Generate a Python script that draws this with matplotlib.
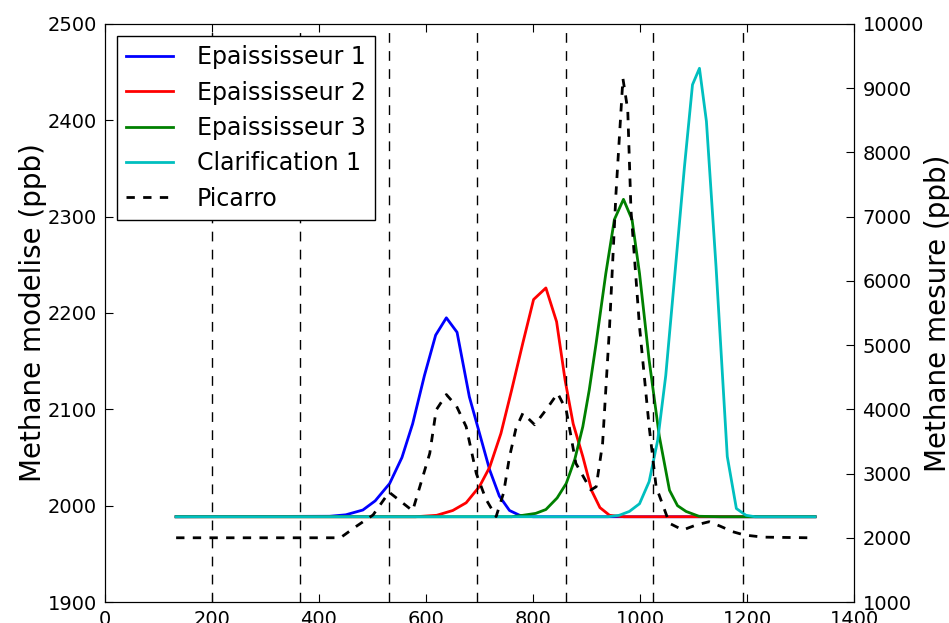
import numpy as np
import matplotlib
matplotlib.use('Agg')
import matplotlib.pyplot as plt

# modelled methane (left axis, ppb)
x_ep1 = [133, 420, 450, 482, 505, 532, 555, 575, 597, 618, 638, 658, 681, 700, 719, 737, 756, 775, 800, 1327]
y_ep1 = [1988.5, 1989, 1990.5, 1995.5, 2005, 2023, 2050, 2085, 2135, 2177, 2195, 2180, 2113, 2075, 2037, 2010, 1995, 1990, 1988.5, 1988.5]

x_ep2 = [133, 580, 620, 650, 675, 700, 719, 740, 760, 781, 801, 824, 844, 860, 875, 893, 910, 925, 943, 970, 1327]
y_ep2 = [1988.5, 1988.5, 1990, 1995, 2003, 2020, 2040, 2075, 2120, 2169, 2214, 2226, 2191, 2130, 2085, 2051, 2015, 1998, 1990, 1988.5, 1988.5]

x_ep3 = [133, 760, 781, 805, 824, 845, 862, 878, 893, 905, 918, 936, 952, 969, 985, 999, 1017, 1036, 1055, 1070, 1086, 1110, 1150, 1327]
y_ep3 = [1988.5, 1988.5, 1990, 1992, 1996, 2008, 2023, 2048, 2082, 2120, 2169, 2241, 2297, 2318, 2297, 2241, 2151, 2072, 2016, 2000, 1994, 1989, 1988.5, 1988.5]

x_cl1 = [133, 940, 961, 980, 999, 1017, 1033, 1048, 1065, 1083, 1098, 1111, 1124, 1142, 1163, 1180, 1198, 1215, 1327]
y_cl1 = [1988.5, 1988.5, 1990, 1994, 2002, 2025, 2068, 2135, 2240, 2352, 2437, 2454, 2399, 2248, 2051, 1997, 1990, 1988.5, 1988.5]

# measured methane (right axis, ppb)
x_pic = [133, 440, 470, 501, 531, 575, 607, 619, 638, 657, 675, 694, 712, 731, 745, 756, 768, 781, 803,
         825, 846, 862, 880, 908, 918, 930, 943, 955, 968, 977, 983, 999, 1017, 1030, 1055, 1080, 1105,
         1129, 1150, 1173, 1195, 1230, 1316]
y_pic = [2000, 2000, 2180, 2355, 2710, 2420, 3315, 3990, 4230, 4050, 3730, 3000, 2600, 2330, 2700, 3260, 3700, 3940, 3760,
         4000, 4250, 3990, 3160, 2744, 2795, 3471, 5286, 7363, 9150, 8660, 7104, 5286, 3730, 2795, 2225, 2121, 2200,
         2250, 2180, 2095, 2043, 2010, 2000]

vlines = [200, 365, 531, 695, 862, 1025, 1193]

plt.rcParams['font.family'] = 'DejaVu Sans'
fig = plt.figure(figsize=(9.49, 6.23), dpi=100)
ax = fig.add_axes([0.1106, 0.0337, 0.7894, 0.9278])
ax2 = ax.twinx()

l1, = ax.plot(x_ep1, y_ep1, color='b', lw=2, label='Epaississeur 1')
l2, = ax.plot(x_ep2, y_ep2, color='r', lw=2, label='Epaississeur 2')
l3, = ax.plot(x_ep3, y_ep3, color='g', lw=2, label='Epaississeur 3')
l4, = ax.plot(x_cl1, y_cl1, color='c', lw=2, label='Clarification 1')
l5, = ax2.plot(x_pic, y_pic, color='k', lw=2, dashes=(3, 3), label='Picarro')
for v in vlines:
    ax.axvline(v, color='k', lw=1, dashes=(7, 6))

ax.set_xlim(0, 1400)
ax.set_ylim(1900, 2500)
ax2.set_ylim(1000, 10000)
ax.set_xticks(np.arange(0, 1401, 200))
ax.set_yticks(np.arange(1900, 2501, 100))
ax2.set_yticks(np.arange(1000, 10001, 1000))

ax.set_ylabel('Methane modelise (ppb)', fontsize=20, labelpad=0)
ax2.set_ylabel('Methane mesure (ppb)', fontsize=20, labelpad=0)
ax.tick_params(direction='in', length=6, labelsize=14, top=True, pad=6)
ax2.tick_params(direction='in', length=6, labelsize=14, pad=6)

leg = ax.legend([l1, l2, l3, l4, l5], [l.get_label() for l in [l1, l2, l3, l4, l5]],
                loc='upper left', fontsize=17, fancybox=False, framealpha=1,
                edgecolor='k', handletextpad=1.0, labelspacing=0.48,
                borderaxespad=0.5)
leg.get_frame().set_linewidth(1)

fig.savefig('out.png', dpi=100)
